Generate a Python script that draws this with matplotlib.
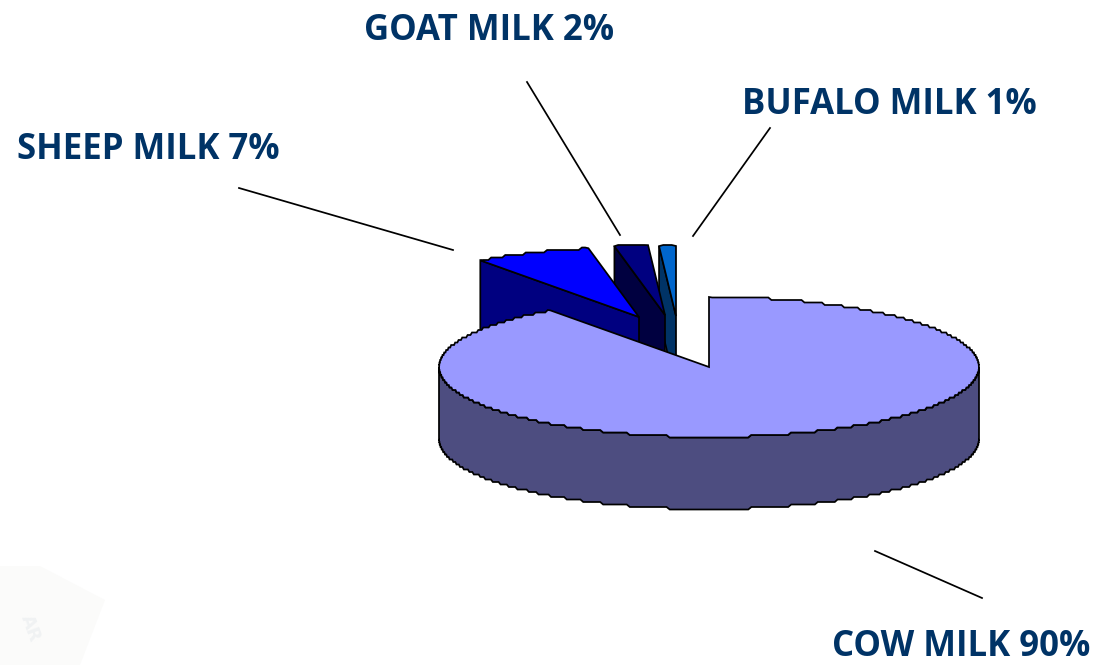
import matplotlib
matplotlib.use("Agg")
import matplotlib.pyplot as plt
import numpy as np
from matplotlib.patches import Polygon

# shares of world milk production, clockwise from 12 o'clock
names = ["COW MILK", "SHEEP MILK", "GOAT MILK", "BUFALO MILK"]
shares = [90, 7, 2, 1]
top_colors = ["#9999FF", "#0000FF", "#000080", "#0066CC"]
wall_colors = ["#4D4D80", "#000080", "#000040", "#003366"]

# layout in pixels
CX, CY = 709, 367
RX, RY = 270, 70
DEPTH = 72
explode = [(0, 0), (-70, -50), (-44, -52), (-33, -51)]
label_pos = [(961, 647), (148, 150), (489, 31), (889, 105)]
leaders = [((875, 551), (982, 598)), ((239, 188), (453, 250)),
           ((527, 82), (620, 235)), ((770, 128), (693, 236))]
TEXT_COLOR = "#003366"
LW = 1.25


def arc(a0, a1, ox, oy):
    # angles in degrees clockwise from 12 o'clock, edge stepped like the original
    n = max(int(abs(a1 - a0) * 1.5), 3)
    a = np.radians(np.linspace(a0, a1, n))
    x = CX + ox + RX * np.sin(a)
    y = CY + oy - RY * np.cos(a)
    y[1:-1] = np.round(y[1:-1] / 2.5) * 2.5
    return np.column_stack([x, y])


fig = plt.figure(figsize=(10.95, 6.65), dpi=100)
ax = fig.add_axes([0, 0, 1, 1])
ax.set_xlim(0, 1095)
ax.set_ylim(665, 0)
ax.axis("off")

# faint watermark in the lower left corner
ax.add_patch(Polygon([(0, 566), (40, 566), (105, 600), (80, 665), (0, 665)],
                     fc="#FBFBFA", ec="none", zorder=0))
ax.text(30, 628, "AR", color="#F0F2F3", fontsize=13, fontweight="bold",
        rotation=-70, ha="center", va="center", zorder=0)

edges = np.cumsum([0] + shares) * 3.6
for i in [3, 2, 1, 0]:
    ox, oy = explode[i]
    apex = np.array([CX + ox, CY + oy])
    rim = arc(edges[i], edges[i + 1], ox, oy)
    if i == 0:
        # outer wall of the big slice, only the part below the widest points
        low = arc(90, 270, ox, oy)
        wall = np.vstack([low, (low + [0, DEPTH])[::-1]])
    else:
        # cut face seen from the front, running from the left rim point to the apex
        wall = np.array([rim[0], apex, apex + [0, DEPTH], rim[0] + [0, DEPTH]])
    ax.add_patch(Polygon(wall, fc=wall_colors[i], ec="black", lw=LW, zorder=2))
    ax.add_patch(Polygon(np.vstack([apex, rim]), fc=top_colors[i], ec="black", lw=LW, zorder=2))

for p, q in leaders:
    ax.plot([p[0], q[0]], [p[1], q[1]], color="black", lw=LW, zorder=4)

for name, share, pos in zip(names, shares, label_pos):
    ax.text(pos[0], pos[1], f"{name} {share}%", color=TEXT_COLOR, fontsize=25,
            fontweight="bold", family="Open Sans", ha="center", va="center")

fig.savefig("out.png", dpi=100)
